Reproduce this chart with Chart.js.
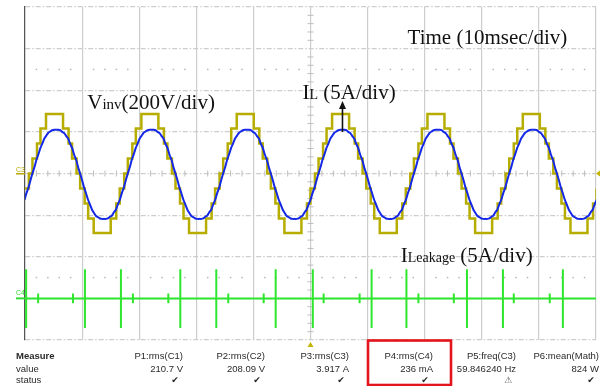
<!DOCTYPE html>
<html>
<head>
<meta charset="utf-8">
<script src="https://cdn.jsdelivr.net/npm/chart.js@4.4.1/dist/chart.umd.min.js"></script>
<style>
  html, body { margin: 0; padding: 0; background: #fff; }
  canvas { display: block; }
</style>
</head>
<body>
<canvas id="scope" width="600" height="386"></canvas>
<script>
// x in ms (10 ms/div), y in screen divisions (8 div tall)
const cycleStarts = [-15.7, 1.0, 17.7, 34.4, 51.1, 67.8, 84.5]; // Vinv rising zero crossings

// IL (blue), one cycle: [ms after cycle start, div]
const ilCycle = [
  [0.30, 0.00], [0.65, 0.15], [1.00, 0.33], [1.34, 0.46], [1.69, 0.61], [2.04, 0.72],
  [2.39, 0.84], [2.74, 0.91], [3.08, 0.98], [3.43, 1.01], [3.78, 1.04], [4.13, 1.05],
  [4.48, 1.05], [4.82, 1.05], [5.17, 1.04], [5.52, 1.00], [5.87, 0.97], [6.22, 0.90],
  [6.56, 0.84], [6.91, 0.71], [7.26, 0.61], [7.61, 0.45], [7.96, 0.33], [8.30, 0.15],
  [8.65, 0.00], [9.00, -0.16], [9.35, -0.34], [9.70, -0.48], [10.04, -0.63], [10.39, -0.75],
  [10.74, -0.87], [11.09, -0.95], [11.44, -1.02], [11.78, -1.05], [12.13, -1.08], [12.48, -1.09],
  [12.83, -1.09], [13.18, -1.09], [13.52, -1.08], [13.87, -1.04], [14.22, -1.01], [14.57, -0.93],
  [14.92, -0.87], [15.26, -0.74], [15.61, -0.63], [15.96, -0.47], [16.31, -0.34], [16.66, -0.16]
];

// Vinv (yellow) staircase, level changes within one cycle: [ms, div]
const vinvSteps = [
  [0.00, 0.00], [0.31, 0.36], [1.10, 0.72], [1.71, 1.08], [2.68, 1.43],
  [5.66, 1.08], [6.63, 0.72], [7.24, 0.36], [8.03, 0.00],
  [8.66, -0.36], [9.45, -0.72], [10.06, -1.08], [11.03, -1.43],
  [14.01, -1.08], [14.98, -0.72], [15.59, -0.36], [16.38, 0.00]
];

// ILeakage (green): baseline and spike times (ms)
const leakBase = -3;
const tallSpikes = [0.2, 10.5, 16.8, 27.2, 33.5, 43.9, 50.4, 60.7, 66.8, 77.4, 83.7, 94.2];
const smallSpikes = [2.3, 8.4, 18.9, 25.1, 35.6, 41.8, 52.3, 58.6, 68.9, 75.1, 85.6, 91.9];
const tallSpan = [0.70, -0.71];
const smallSpan = [0.12, -0.12];

// measurement strip
const measNames = ['P1:rms(C1)', 'P2:rms(C2)', 'P3:rms(C3)', 'P4:rms(C4)', 'P5:freq(C3)', 'P6:mean(Math)'];
const measValues = ['210.7 V', '208.09 V', '3.917 A', '236 mA', '59.846240 Hz', '824 W'];
const measStatus = ['✔', '✔', '✔', '✔', '⚠', '✔'];

function tile(cycle) {
  const pts = [];
  for (const s of cycleStarts) {
    for (const [dt, v] of cycle) pts.push({x: s + dt, y: v});
  }
  return pts;
}

const leakPts = [{x: 0, y: leakBase}];
const spikes = tallSpikes.map(t => [t, tallSpan])
  .concat(smallSpikes.map(t => [t, smallSpan]))
  .sort((a, b) => a[0] - b[0]);
for (const [t, [up, dn]] of spikes) {
  leakPts.push({x: t, y: leakBase}, {x: t, y: leakBase + up}, {x: t, y: leakBase + dn}, {x: t, y: leakBase});
}
leakPts.push({x: 100, y: leakBase});

const notes = [
  {x: 10.9, y: 1.55, runs: [['V', 21], ['inv', 15], ['(200V/div)', 21]]},
  {x: 48.6, y: 1.79, runs: [['I', 21], ['L', 14], [' (5A/div)', 21]]},
  {x: 67.0, y: 3.11, runs: [['Time (10msec/div)', 21]]},
  {x: 65.8, y: -2.12, runs: [['I', 21], ['Leakage', 14], [' (5A/div)', 21]]}
];

const scopeDecor = {
  id: 'scopeDecor',
  beforeDatasetsDraw(chart) {
    const {ctx, scales: {x, y}} = chart;
    ctx.save();
    // dotted rows
    ctx.fillStyle = '#b8b8b8';
    for (const row of [2.5, -2.5]) {
      const py = y.getPixelForValue(row);
      for (let k = 1; k < 50; k++) {
        if (k % 5 === 0) continue;
        ctx.fillRect(x.getPixelForValue(k * 2) - 0.75, py - 0.75, 1.5, 1.5);
      }
    }
    // minor ticks on the centre axes
    ctx.strokeStyle = '#bdbdbd';
    ctx.lineWidth = 1;
    const cy = y.getPixelForValue(0), cx = x.getPixelForValue(50);
    ctx.beginPath();
    for (let k = 1; k < 50; k++) {
      if (k % 5 === 0) continue;
      const px = x.getPixelForValue(k * 2);
      ctx.moveTo(px, cy - 3); ctx.lineTo(px, cy + 3);
    }
    for (let k = -19; k < 20; k++) {
      if (k % 5 === 0) continue;
      const py = y.getPixelForValue(k / 5);
      ctx.moveTo(cx - 3, py); ctx.lineTo(cx + 3, py);
    }
    ctx.stroke();
    ctx.restore();
  },
  afterDraw(chart) {
    const {ctx, chartArea: a, scales: {x, y}} = chart;
    ctx.save();

    // channel markers
    ctx.font = '7px "Liberation Sans"';
    ctx.textBaseline = 'alphabetic';
    ctx.fillStyle = '#b5a800';
    ctx.fillText('C3', 16, y.getPixelForValue(0) - 2);
    ctx.fillRect(16, y.getPixelForValue(0) - 0.5, a.left - 16, 1.5);
    ctx.fillStyle = '#33dd33';
    ctx.fillText('C4', 16, y.getPixelForValue(leakBase) - 3);
    ctx.fillRect(16, y.getPixelForValue(leakBase) - 1, a.left - 16, 2);

    // trigger markers
    ctx.fillStyle = '#c2b400';
    const ty = y.getPixelForValue(0);
    ctx.beginPath();
    ctx.moveTo(a.right, ty); ctx.lineTo(a.right + 4, ty - 3); ctx.lineTo(a.right + 4, ty + 3);
    ctx.fill();
    const tx = x.getPixelForValue(50);
    ctx.beginPath();
    ctx.moveTo(tx, a.bottom + 2); ctx.lineTo(tx - 3, a.bottom + 7); ctx.lineTo(tx + 3, a.bottom + 7);
    ctx.fill();

    // annotations
    ctx.fillStyle = '#111';
    for (const n of notes) {
      let px = x.getPixelForValue(n.x);
      const py = y.getPixelForValue(n.y);
      for (const [txt, size] of n.runs) {
        ctx.font = size + 'px "Liberation Serif"';
        ctx.fillText(txt, px, py);
        px += ctx.measureText(txt).width;
      }
    }

    // IL arrow
    const ax = x.getPixelForValue(55.6);
    const ay0 = y.getPixelForValue(1.0), ay1 = y.getPixelForValue(1.74);
    ctx.strokeStyle = '#111';
    ctx.lineWidth = 1.6;
    ctx.beginPath();
    ctx.moveTo(ax, ay0); ctx.lineTo(ax, ay1 + 6);
    ctx.stroke();
    ctx.beginPath();
    ctx.moveTo(ax, ay1); ctx.lineTo(ax - 3.5, ay1 + 8); ctx.lineTo(ax + 3.5, ay1 + 8);
    ctx.closePath();
    ctx.fill();

    // measurement strip
    const rows = [a.bottom + 19, a.bottom + 32, a.bottom + 43];
    const colRight = [183, 265, 349, 433, 516, 599];
    ctx.fillStyle = '#2a2a2a';
    ctx.textAlign = 'left';
    ctx.font = 'bold 9.5px "Liberation Sans"';
    ctx.fillText('Measure', 16, rows[0]);
    ctx.font = '9.5px "Liberation Sans"';
    ctx.fillText('value', 16, rows[1]);
    ctx.fillText('status', 16, rows[2]);
    measNames.forEach((s, i) => {
      ctx.textAlign = 'right';
      ctx.font = '9.5px "Liberation Sans"';
      ctx.fillStyle = '#2a2a2a';
      ctx.fillText(s, colRight[i], rows[0]);
      ctx.fillText(measValues[i], colRight[i], rows[1]);
      ctx.textAlign = 'center';
      ctx.font = '9px "DejaVu Sans"';
      ctx.fillStyle = measStatus[i] === '⚠' ? '#555' : '#222';
      ctx.fillText(measStatus[i], colRight[i] - 8, rows[2]);
    });

    // highlight box around P4
    ctx.strokeStyle = '#e3141c';
    ctx.lineWidth = 2.6;
    ctx.strokeRect(368, a.bottom + 0.5, 83, 44.5);
    ctx.restore();
  }
};

new Chart(document.getElementById('scope'), {
  type: 'line',
  data: {
    datasets: [
      {
        label: 'IL',
        data: tile(ilCycle),
        borderColor: '#1428e6',
        borderWidth: 2,
        tension: 0.2,
        pointRadius: 0
      },
      {
        label: 'Vinv',
        data: tile(vinvSteps),
        borderColor: '#b6ad00',
        borderWidth: 2.5,
        stepped: 'before',
        pointRadius: 0
      },
      {
        label: 'ILeakage',
        data: leakPts,
        borderColor: '#2ee62e',
        borderWidth: 2,
        tension: 0,
        pointRadius: 0
      }
    ]
  },
  options: {
    responsive: false,
    animation: false,
    layout: { padding: { left: 25, right: 4, top: 7, bottom: 46 } },
    plugins: { legend: { display: false }, tooltip: { enabled: false } },
    scales: {
      x: {
        type: 'linear',
        min: 0,
        max: 100,
        ticks: { display: false, stepSize: 10 },
        grid: { color: '#cdcdcd', lineWidth: 1.2, drawTicks: false },
        border: { display: false }
      },
      y: {
        min: -4,
        max: 4,
        ticks: { display: false, stepSize: 1 },
        grid: { color: '#cdcdcd', lineWidth: 1.2, drawTicks: false },
        border: { display: true, color: '#555', width: 1.2, dash: [5, 2, 1.5, 2] }
      }
    }
  },
  plugins: [scopeDecor]
});
</script>
</body>
</html>
